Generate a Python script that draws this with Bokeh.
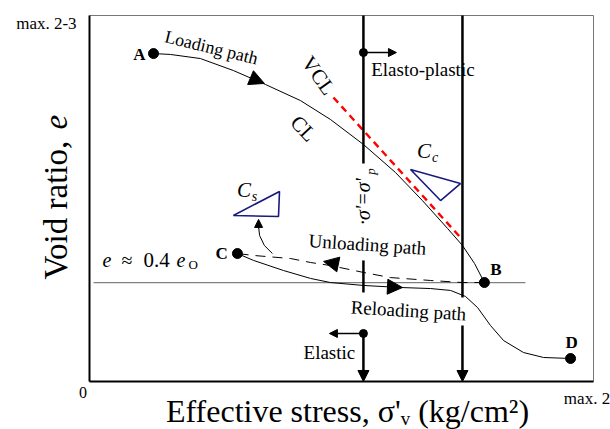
import numpy as np
from bokeh.plotting import figure
from bokeh.models import Range1d, Arrow, NormalHead
from bokeh.core.properties import value
from bokeh.embed import file_html
from bokeh.resources import INLINE

SERIF = value("Liberation Serif")

# ---------------- data (stress in kg/cm2, void ratio e; schematic) ----------------
X_MAX = 2.0            # "max. 2"
Y_MAX = 2.5            # "max. 2-3"

# loading path A -> B (compression line CL)
load_x = [0.254, 0.321, 0.440, 0.571, 0.698, 0.837, 0.956, 1.087, 1.214, 1.321, 1.421, 1.480, 1.528, 1.567]
load_y = [2.240, 2.234, 2.206, 2.124, 2.029, 1.919, 1.790, 1.619, 1.428, 1.236, 1.045, 0.929, 0.806, 0.676]

# virgin compression line (VCL)
vcl_x = [0.968, 1.472]
vcl_y = [1.940, 0.984]

# unloading path B -> C
unl_x = [1.567, 1.480, 1.353, 1.194, 1.087, 0.956, 0.877, 0.798, 0.651, 0.587]
unl_y = [0.676, 0.676, 0.690, 0.710, 0.745, 0.792, 0.813, 0.840, 0.861, 0.874]

# reloading path C -> D
rel_x = [0.587, 0.651, 0.770, 0.877, 0.956, 1.087, 1.234, 1.353, 1.433, 1.492, 1.540, 1.591, 1.643, 1.722, 1.802, 1.909]
rel_y = [0.874, 0.827, 0.758, 0.704, 0.676, 0.656, 0.642, 0.635, 0.622, 0.581, 0.505, 0.383, 0.280, 0.198, 0.164, 0.157]

# e ~ 0.4 e0 reference line
e04_level = 0.676
e04_x = [0.016, 1.730]

# key points
pt_names = ["A", "B", "C", "D"]
pt_x = [0.254, 1.567, 0.587, 1.909]
pt_y = [2.240, 0.676, 0.874, 0.157]
pt_lab_x = [0.198, 1.613, 0.524, 1.913]
pt_lab_y = [2.234, 0.765, 0.871, 0.263]

# vertical stress lines (sigma'_p and second line)
sig_p = 1.087
sig_2 = 1.480
vseg_x0 = [sig_p, sig_p, sig_2]
vseg_y0 = [Y_MAX, 0.827, Y_MAX]
vseg_y1 = [1.489, 0.608, 0.574]
varrow_x = [sig_p, sig_2]
varrow_y0 = [0.348, 0.383]

# slope triangles
cs_x = [0.571, 0.754, 0.750]
cs_y = [1.134, 1.298, 1.127]
cc_x = [1.274, 1.472, 1.393]
cc_y = [1.448, 1.352, 1.236]

# curved pointer to Cs
ptr_x = [0.726, 0.694, 0.675, 0.671]
ptr_y = [0.874, 0.929, 0.997, 1.059]

# ---------------- figure ----------------
W, H = 610, 429
p = figure(width=W, height=H, output_backend="svg", toolbar_location=None,
           x_range=Range1d(-0.35317, 2.06746), y_range=Range1d(-0.32787, 2.60246),
           x_axis_type=None, y_axis_type=None, min_border=0)
p.grid.visible = False
p.outline_line_color = None
p.background_fill_color = "white"
p.border_fill_color = "white"

# frame
p.line([0, X_MAX], [Y_MAX, Y_MAX], line_color="#777777", line_width=1)
p.line([X_MAX, X_MAX], [0, Y_MAX], line_color="#777777", line_width=1)
p.line([0, 0], [0, Y_MAX], line_color="black", line_width=2)
p.line([0, X_MAX], [0, 0], line_color="black", line_width=2)

# e ~ 0.4 e0 line
p.line(e04_x, [e04_level, e04_level], line_color="#808080", line_width=1.2)

# curves
p.line(load_x, load_y, line_color="black", line_width=1)
p.line(vcl_x, vcl_y, line_color="red", line_width=2.4, line_dash="7 5")
p.line(unl_x, unl_y, line_color="black", line_width=1, line_dash="10 7")
p.line(rel_x, rel_y, line_color="black", line_width=1)

# vertical lines
p.segment(x0=vseg_x0, y0=vseg_y0, x1=vseg_x0, y1=vseg_y1, line_color="black", line_width=2.5)
for vx, vy in zip(varrow_x, varrow_y0):
    p.add_layout(Arrow(end=NormalHead(size=11, fill_color="black", line_color="black"),
                       x_start=vx, y_start=vy, x_end=vx, y_end=0,
                       line_color="black", line_width=2.5))

# elasto-plastic / elastic markers
p.scatter([sig_p, sig_p], [2.247, 0.328], size=8, color="black")
p.add_layout(Arrow(end=NormalHead(size=8, fill_color="black", line_color="black"),
                   x_start=sig_p, y_start=2.247, x_end=1.218, y_end=2.247,
                   line_color="black", line_width=1.5))
p.add_layout(Arrow(end=NormalHead(size=8, fill_color="black", line_color="black"),
                   x_start=sig_p, y_start=0.328, x_end=0.952, y_end=0.328,
                   line_color="black", line_width=1.5))

# direction arrows on paths
for (xs, ys, xe, ye) in [(0.619, 2.090, 0.694, 2.036),
                         (1.008, 0.792, 0.929, 0.820),
                         (1.163, 0.649, 1.242, 0.642)]:
    p.add_layout(Arrow(end=NormalHead(size=15, fill_color="black", line_color="black"),
                       x_start=xs, y_start=ys, x_end=xe, y_end=ye, line_alpha=0))

# slope triangles
p.patch(cs_x, cs_y, fill_color=None, line_color="#1a1a80", line_width=1.6)
p.patch(cc_x, cc_y, fill_color=None, line_color="#1a1a80", line_width=1.6)

# pointer to Cs
p.line(ptr_x, ptr_y, line_color="black", line_width=1)
p.add_layout(Arrow(end=NormalHead(size=8, fill_color="black", line_color="black"),
                   x_start=0.671, y_start=1.045, x_end=0.671, y_end=1.107,
                   line_color="black", line_width=1))

# points
p.scatter(pt_x, pt_y, size=10, color="black")
p.text(pt_lab_x, pt_lab_y, text=pt_names, text_font=SERIF, text_font_size="17px",
       text_font_style="bold", text_align="center", text_baseline="middle")

def txt(x, y, s, size, style="normal", align="center", baseline="middle", angle=0.0):
    p.text([x], [y], text=[s], text_font=SERIF, text_font_size=size,
           text_font_style=style, text_align=align, text_baseline=baseline,
           angle=angle, text_color="black")

# path labels
txt(0.484, 2.281, "Loading path", "18px", angle=-0.24)
txt(1.103, 0.936, "Unloading path", "19px", angle=-0.066)
txt(1.266, 0.485, "Reloading path", "19px", angle=-0.06)
txt(0.952, 0.2015, "Elastic", "19px")
txt(1.323, 2.128, "Elasto-plastic", "19px")
txt(0.909, 2.090, "VCL", "21px", angle=-0.95)
txt(0.849, 1.728, "CL", "21px", angle=-0.82)

# slope labels
txt(1.327, 1.574, "C", "21px", style="italic")
txt(1.371, 1.527, "c", "14px", style="italic")
txt(0.613, 1.305, "C", "21px", style="italic")
txt(0.655, 1.267, "s", "14px", style="italic")

# sigma'_p label (rotated)
txt(1.0853, 1.2295, "\u00b7\u03c3'=\u03c3'", "20px", style="italic", angle=np.pi / 2)
txt(1.117, 1.4344, "p", "13px", style="italic", angle=np.pi / 2)

# e ~ 0.4 e0 label
txt(0.0516, 0.8333, "e", "20px", style="italic", align="left")
txt(0.127, 0.8333, "\u2248", "20px", align="left")
txt(0.2143, 0.8333, "0.4", "21px", align="left")
txt(0.3452, 0.8333, "e", "20px", style="italic", align="left")
txt(0.3929, 0.7992, "O", "13px", align="left")

# axis extremes
txt(-0.171, 2.445, "max. 2-3", "17px")
txt(-0.026, -0.075, "0", "16px")
txt(2.066, -0.116, "max. 2", "17px", align="right")

# axis titles
txt(-0.1349, 0.6967, "Void ratio, ", "33px", align="left", angle=np.pi / 2)
txt(-0.1349, 1.7213, "e", "33px", style="italic", align="left", angle=np.pi / 2)
txt(1.0238, -0.2049, "Effective stress, \u03c3'\u1d65 (kg/cm\u00b2)", "32px")

open("out.html", "w").write(file_html(p, INLINE))
